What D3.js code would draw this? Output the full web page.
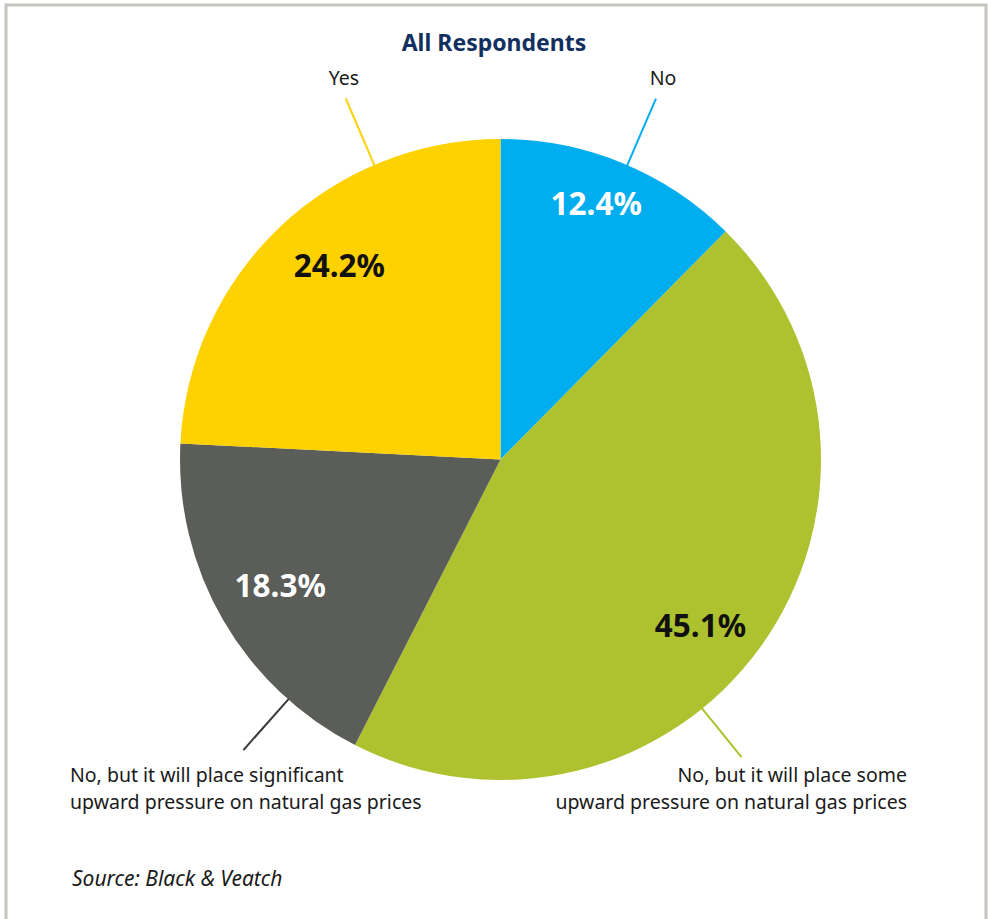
<!DOCTYPE html>
<html><head><meta charset="utf-8">
<script src="https://cdn.jsdelivr.net/npm/d3@7"></script>
<style>
html,body{margin:0;padding:0;background:#fff;}
svg{display:block;font-family:"Noto Sans","Open Sans",sans-serif;}
</style></head>
<body>
<svg id="chart" width="988" height="919"></svg>
<script>
// ---- data ----
const categories = [
  "No",
  "No, but it will place some upward pressure on natural gas prices",
  "No, but it will place significant upward pressure on natural gas prices",
  "Yes"
];
const values = [12.4, 45.1, 18.3, 24.2];
const valueLabels = ["12.4%", "45.1%", "18.3%", "24.2%"];
const outerLabelLines = [
  ["No"],
  ["No, but it will place some", "upward pressure on natural gas prices"],
  ["No, but it will place significant", "upward pressure on natural gas prices"],
  ["Yes"]
];
const title = "All Respondents";
const source = "Source: Black & Veatch";

// ---- style ----
const colors = ["#00adef", "#adc22e", "#5b5d59", "#fed100"];
const valueTextColors = ["#ffffff", "#111111", "#ffffff", "#111111"];
const cx = 500.5, cy = 459.5, R = 320.5;
const valueLabelR = [273, 260, 254, 252];
const valueLabelAngleOffset = [-1.8, 3.9, 0.2, 3.8]; // degrees
const leaderAngles = [23.3, 141, 221.5, -23.2]; // degrees, clockwise from top
const leaderOuterR = [393, 383, 388, 393];
const leaderColors = ["#00adef", "#adc22e", "#3a3a3a", "#fed100"];

const svg = d3.select("#chart");

// border
svg.append("rect").attr("x", 6).attr("y", 5).attr("width", 980).attr("height", 930)
  .attr("fill", "none").attr("stroke", "#c6c3be").attr("stroke-width", 3);

// title
svg.append("text").attr("x", 494).attr("y", 51).attr("text-anchor", "middle")
  .attr("font-size", 23).attr("font-weight", 700).attr("fill", "#12305f")
  .text(title);

const pie = d3.pie().sort(null).value(d => d)(values);
const arc = d3.arc().innerRadius(0).outerRadius(R);
const g = svg.append("g").attr("transform", `translate(${cx},${cy})`);

g.selectAll("path.slice").data(pie).join("path")
  .attr("class", "slice")
  .attr("d", arc)
  .attr("fill", (d, i) => colors[i]);

const rad = a => a * Math.PI / 180;
const pt = (angDeg, r) => [r * Math.sin(rad(angDeg)), -r * Math.cos(rad(angDeg))];

// value labels
g.selectAll("text.val").data(pie).join("text")
  .attr("class", "val")
  .attr("transform", (d, i) => {
    const mid = (d.startAngle + d.endAngle) / 2 * 180 / Math.PI + valueLabelAngleOffset[i];
    const p = pt(mid, valueLabelR[i]);
    return `translate(${p[0]},${p[1]})`;
  })
  .attr("text-anchor", "middle").attr("dy", "0.36em")
  .attr("font-size", 31.5).attr("font-weight", 700)
  .attr("fill", (d, i) => valueTextColors[i])
  .text((d, i) => valueLabels[i]);

// leader lines
g.selectAll("line.leader").data(pie).join("line")
  .attr("class", "leader")
  .each(function (d, i) {
    const a = pt(leaderAngles[i], R - 1), b = pt(leaderAngles[i], leaderOuterR[i]);
    d3.select(this).attr("x1", a[0]).attr("y1", a[1]).attr("x2", b[0]).attr("y2", b[1]);
  })
  .attr("stroke", (d, i) => leaderColors[i]).attr("stroke-width", 2);

// outer labels
const outerPos = [
  {x: 663, y: 85, anchor: "middle"},
  {x: 907, y: 782, anchor: "end"},
  {x: 70, y: 782, anchor: "start"},
  {x: 344, y: 85, anchor: "middle"}
];
outerLabelLines.forEach((lines, i) => {
  const t = svg.append("text").attr("x", outerPos[i].x).attr("y", outerPos[i].y)
    .attr("text-anchor", outerPos[i].anchor).attr("font-size", 19.5).attr("fill", "#1a1a1a");
  lines.forEach((ln, j) => t.append("tspan").attr("x", outerPos[i].x).attr("dy", j === 0 ? 0 : 27).text(ln));
});

// source
svg.append("text").attr("x", 72).attr("y", 886).attr("font-size", 21)
  .attr("font-style", "italic").attr("fill", "#1a1a1a").text(source);
</script>
</body></html>
